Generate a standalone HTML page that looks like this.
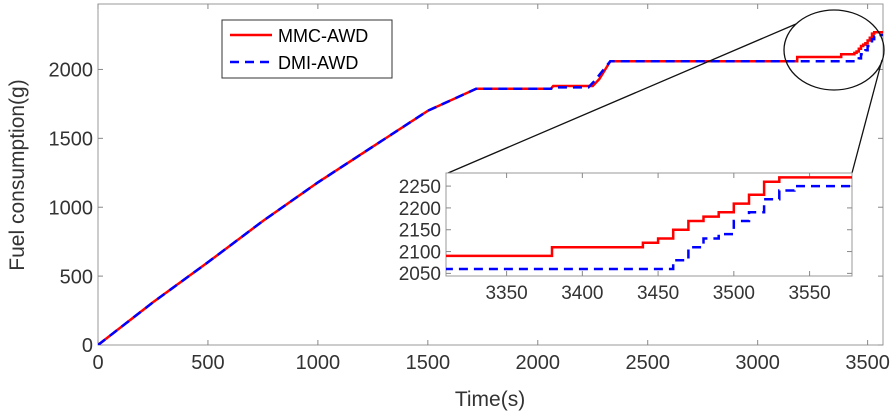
<!DOCTYPE html>
<html><head><meta charset="utf-8"><style>
html,body{margin:0;padding:0;background:#fff;overflow:hidden;width:896px;height:418px;}
svg{display:block;}
svg text{font-family:"Liberation Sans",Arial,sans-serif;fill:#333;}
</style></head><body>
<svg id="c" width="896" height="418"></svg>
<script>
const mainTicksX=[0,500,1000,1500,2000,2500,3000,3500];
const mainTicksY=[0,500,1000,1500,2000];
const insetTicksX=[3350,3400,3450,3500,3550];
const insetTicksY=[2050,2100,2150,2200,2250];
const redT=[0,250,500,750,1000,1250,1500,1720,2060,2070,2250,2280,2330,3180,3380,3440,3450,3460,3470,3480,3490,3500,3510,3520,3530,3578];
const redV=[0,310,600,900,1180,1440,1700,1860,1860,1880,1880,1930,2060,2090,2110,2120,2130,2150,2170,2180,2190,2210,2230,2260,2270,2270];
const blueT=[0,250,500,750,1000,1250,1500,1720,2060,2070,2230,2260,2330,3450,3460,3470,3480,3490,3500,3510,3520,3530,3540,3578];
const blueV=[0,310,600,900,1180,1440,1700,1860,1860,1870,1870,1920,2060,2060,2080,2110,2130,2140,2170,2190,2220,2240,2250,2250];
const stepStart=2330;
const svg=document.getElementById('c');const NS='http://www.w3.org/2000/svg';
function mk(t,a,p){const e=document.createElementNS(NS,t);for(const k in a)e.setAttribute(k,a[k]);(p||svg).appendChild(e);return e;}
const M={x0:98,x1:883,y0:345,y1:4,tmin:0,tmax:3570,vmin:0,vmax:2475};
const I={x0:446,x1:852,y0:276,y1:173,tmin:3310,tmax:3578,vmin:2044,vmax:2280};
function sx(A,t){return A.x0+(t-A.tmin)/(A.tmax-A.tmin)*(A.x1-A.x0);}
function sy(A,v){return A.y0-(v-A.vmin)/(A.vmax-A.vmin)*(A.y0-A.y1);}
function stepPath(A,T,V){
 let pts=[];
 for(let i=0;i<T.length;i++){
  if(i>0&&T[i]>stepStart&&T[i-1]>=stepStart){pts.push([T[i],V[i-1]]);}
  pts.push([T[i],V[i]]);
 }
 return pts.map((p,i)=>(i?'L':'M')+sx(A,p[0]).toFixed(1)+' '+sy(A,p[1]).toFixed(1)).join(' ');
}
function axes(A,tx,ty,fs,name){
 const g=mk('g',{});
 mk('rect',{x:A.x0,y:A.y1,width:A.x1-A.x0,height:A.y0-A.y1,fill:'#fff',stroke:'#999','stroke-width':1},g);
 tx.forEach(t=>{const x=sx(A,t);mk('line',{x1:x,x2:x,y1:A.y0,y2:A.y0-5,stroke:'#888'},g);mk('line',{x1:x,x2:x,y1:A.y1,y2:A.y1+5,stroke:'#888'},g);
  const tt=mk('text',{x:x,y:A.y0+fs+4,'text-anchor':'middle','font-size':fs},g);tt.textContent=t;});
 ty.forEach(v=>{const y=sy(A,v);mk('line',{x1:A.x0,x2:A.x0+5,y1:y,y2:y,stroke:'#888'},g);mk('line',{x1:A.x1,x2:A.x1-5,y1:y,y2:y,stroke:'#888'},g);
  const tt=mk('text',{x:A.x0-5,y:y+fs*0.36,'text-anchor':'end','font-size':fs},g);tt.textContent=v;});
 return g;}
const defs=mk('defs',{});
const cp=mk('clipPath',{id:'insetClip'},defs);
mk('rect',{x:I.x0,y:I.y1,width:I.x1-I.x0,height:I.y0-I.y1},cp);
const cpm=mk('clipPath',{id:'mainClip'},defs);
mk('rect',{x:M.x0,y:M.y1,width:M.x1-M.x0,height:M.y0-M.y1},cpm);
axes(M,mainTicksX,mainTicksY,20,'main-axes');
let r=mk('path',{d:stepPath(M,redT,redV),fill:'none',stroke:'#f00','stroke-width':2.5,'clip-path':'url(#mainClip)'});

let b=mk('path',{d:stepPath(M,blueT,blueV),fill:'none',stroke:'#00f','stroke-width':2.5,'stroke-dasharray':'9 6','clip-path':'url(#mainClip)'});

let e=mk('ellipse',{cx:834,cy:50,rx:50,ry:40,fill:'none',stroke:'#111','stroke-width':1.3});

mk('line',{x1:796,y1:24,x2:448,y2:173,stroke:'#111','stroke-width':1.3});
mk('line',{x1:882,y1:60,x2:852,y2:173,stroke:'#111','stroke-width':1.3});
axes(I,insetTicksX,insetTicksY,19,'inset-axes');
let r2=mk('path',{d:stepPath(I,redT,redV),fill:'none',stroke:'#f00','stroke-width':2.5,'clip-path':'url(#insetClip)'});

let b2=mk('path',{d:stepPath(I,blueT,blueV),fill:'none',stroke:'#00f','stroke-width':2.5,'stroke-dasharray':'9 6','clip-path':'url(#insetClip)'});

const lg=mk('g',{});
mk('rect',{x:222,y:20,width:170,height:58,fill:'#fff',stroke:'#333'},lg);
mk('line',{x1:230,x2:272,y1:35,y2:35,stroke:'#f00','stroke-width':2.5},lg);
mk('line',{x1:230,x2:272,y1:62,y2:62,stroke:'#00f','stroke-width':2.5,'stroke-dasharray':'9 6'},lg);
let l1=mk('text',{x:278,y:42,'font-size':18,style:'fill:#000'},lg);l1.textContent='MMC-AWD';
let l2=mk('text',{x:278,y:69,'font-size':18,style:'fill:#000'},lg);l2.textContent='DMI-AWD';
let xt=mk('text',{x:490,y:406,'text-anchor':'middle','font-size':21});xt.textContent='Time(s)';

let yt=mk('text',{x:24,y:175,'text-anchor':'middle','font-size':21,transform:'rotate(-90 24 175)'});yt.textContent='Fuel consumption(g)';

</script>
</body></html>
